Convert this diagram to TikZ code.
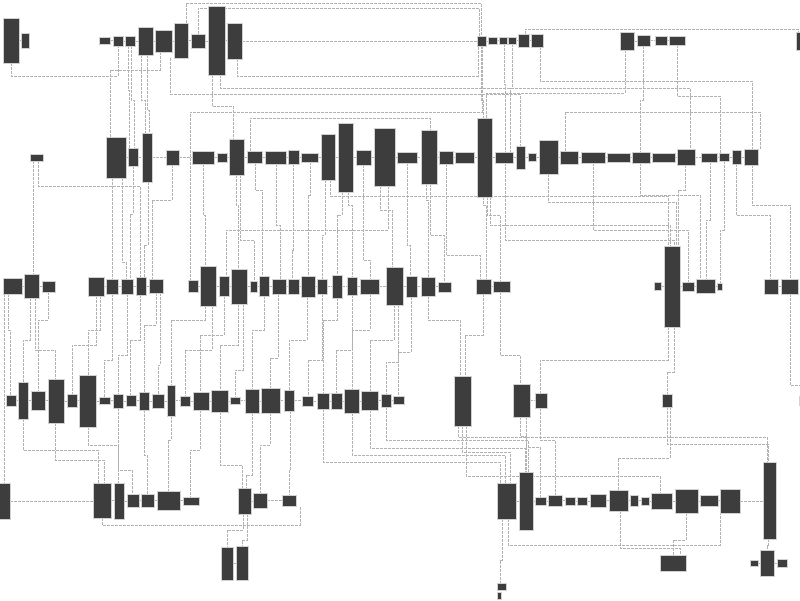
\documentclass[tikz,border=0pt]{standalone}
\usepackage{tikz}
\usetikzlibrary{fit, backgrounds}

\begin{document}
\begin{tikzpicture}[x=1pt, y=-1pt,
    tbl/.style={draw=black!18, fill=black!76, line width=0.8pt, inner sep=0pt},
    fk/.style={draw=black!30, dash pattern=on 2.5pt off 1.5pt, line width=0.45pt}
  ]
  \useasboundingbox (0,0) rectangle (800,600);

  % tables, row by row: name/x1/y1/x2/y2
  \foreach \n/\xa/\ya/\xb/\yb in {
      a1/3/18/19/63, a2/21/33/29/48, a3/99/37/110/44, a4/113/36/123/46,
      a5/125/36/135/46, a6/138/27/153/55, a7/155/30/172/52, a8/174/23/188/58,
      a9/191/34/205/48, a10/208/6/225/75, a11/227/23/242/59, a12/477/36/486/46,
      a13/488/37/497/44, a14/499/37/507/44, a15/508/37/516/44, a16/518/34/529/47,
      a17/531/34/543/47, a18/620/32/634/50, a19/637/35/650/46, a20/655/36/667/45,
      a21/669/36/685/45, a22/796/32/801/50}
    \node[tbl, fit={(\xa,\ya) (\xb,\yb)}] (\n) {};

  \foreach \n/\xa/\ya/\xb/\yb in {
      b1/30/154/43/161, b2/106/137/126/178, b3/128/148/138/166, b4/142/133/152/182,
      b5/166/150/179/165, b6/192/151/214/164, b7/217/153/227/162, b8/229/139/244/175,
      b9/247/151/262/163, b10/265/151/286/164, b11/288/150/299/164, b12/301/153/318/162,
      b13/321/134/335/180, b14/338/123/353/192, b15/356/150/371/165, b16/374/128/395/186,
      b17/397/152/417/163, b18/421/130/437/184, b19/439/151/453/164, b20/455/152/474/163,
      b21/477/118/492/197, b22/495/152/513/163, b23/516/146/525/169, b24/528/153/536/161,
      b25/539/140/558/174, b26/560/151/578/164, b27/581/152/605/163, b28/607/153/630/162,
      b29/632/152/650/163, b30/652/153/675/162, b31/677/149/695/165, b32/701/153/717/162,
      b33/719/153/729/161, b34/732/150/741/164, b35/744/149/758/165}
    \node[tbl, fit={(\xa,\ya) (\xb,\yb)}] (\n) {};

  \foreach \n/\xa/\ya/\xb/\yb in {
      c1/3/278/22/294, c2/24/274/39/298, c3/42/281/55/292, c4/88/277/104/296,
      c5/106/279/118/294, c6/121/279/133/294, c7/136/277/146/295, c8/149/279/163/293,
      c9/188/280/198/292, c10/200/266/216/306, c11/219/276/229/296, c12/231/269/247/304,
      c13/250/281/257/292, c14/259/276/269/296, c15/272/279/286/294, c16/288/279/299/294,
      c17/301/276/315/297, c18/317/279/327/294, c19/332/275/342/298, c20/347/277/357/295,
      c21/360/279/379/294, c22/386/267/403/305, c23/406/276/417/297, c24/421/277/435/296,
      c25/438/282/451/292, c26/476/279/491/294, c27/493/281/510/292, c28/654/282/661/290,
      c29/664/246/680/327, c30/682/282/694/291, c31/696/279/715/293, c32/717/283/722/290,
      c33/764/279/778/294, c34/781/279/798/294}
    \node[tbl, fit={(\xa,\ya) (\xb,\yb)}] (\n) {};

  \foreach \n/\xa/\ya/\xb/\yb in {
      d1/6/395/16/406, d2/18/382/28/419, d3/31/391/45/410, d4/48/379/64/423,
      d5/67/394/77/407, d6/79/375/96/427, d7/99/397/110/404, d8/113/394/123/408,
      d9/126/395/136/406, d10/139/392/149/410, d11/152/394/164/408, d12/167/385/175/416,
      d13/180/396/190/406, d14/193/392/209/410, d15/211/390/228/412, d16/230/397/240/404,
      d17/245/389/259/413, d18/261/388/280/413, d19/284/390/294/411, d20/302/396/313/406,
      d21/317/393/329/409, d22/331/393/342/409, d23/344/389/359/413, d24/361/391/378/410,
      d25/381/394/391/407, d26/393/396/404/404, d27/454/376/471/426, d28/513/384/530/417,
      d29/535/393/547/408, d30/662/394/672/407, d31/799/396/801/405}
    \node[tbl, fit={(\xa,\ya) (\xb,\yb)}] (\n) {};

  \foreach \n/\xa/\ya/\xb/\yb in {
      e1/-1/483/10/519, e2/93/483/111/518, e3/114/483/124/519, e4/127/494/139/507,
      e5/141/494/154/507, e6/157/491/180/510, e7/183/497/199/505, e8/238/488/251/514,
      e9/253/493/267/508, e10/282/495/296/506, e11/497/483/516/519, e12/519/472/533/530,
      e13/535/497/546/505, e14/548/495/562/506, e15/565/497/575/505, e16/577/497/587/505,
      e17/590/494/606/507, e18/609/490/628/511, e19/630/495/638/506, e20/641/497/649/505,
      e21/651/493/672/509, e22/675/489/698/513, e23/700/495/718/506, e24/720/489/740/513,
      e25/763/462/776/539,
      f1/221/547/233/580, f2/236/546/248/580, f3/660/555/686/571, f4/750/560/758/566,
      f5/760/550/774/576, f6/777/559/787/567, f7/497/583/506/590, f8/497/592/501/599}
    \node[tbl, fit={(\xa,\ya) (\xb,\yb)}] (\n) {};

  \begin{scope}[on background layer]
    % neighbours in a row
    \foreach \s/\t in {a1/a2, a3/a4, a4/a5, a5/a6, a6/a7, a7/a8, a8/a9, a9/a10, a10/a11,
        a12/a13, a13/a14, a14/a15, a15/a16, a16/a17, a18/a19, a19/a20, a20/a21,
        b2/b3, b3/b4, b4/b5, b5/b6, b6/b7, b7/b8, b8/b9, b9/b10, b10/b11, b11/b12,
        b12/b13, b13/b14, b14/b15, b15/b16, b16/b17, b17/b18, b18/b19, b19/b20,
        b20/b21, b21/b22, b22/b23, b23/b24, b24/b25, b25/b26, b26/b27, b27/b28,
        b28/b29, b29/b30, b30/b31, b31/b32, b32/b33, b33/b34, b34/b35,
        c1/c2, c2/c3, c4/c5, c5/c6, c6/c7, c7/c8, c9/c10, c10/c11, c11/c12, c12/c13,
        c13/c14, c14/c15, c15/c16, c16/c17, c17/c18, c18/c19, c19/c20, c20/c21,
        c21/c22, c22/c23, c23/c24, c24/c25, c26/c27, c28/c29, c29/c30, c30/c31,
        c31/c32, c33/c34,
        d1/d2, d2/d3, d3/d4, d4/d5, d5/d6, d6/d7, d7/d8, d8/d9, d9/d10, d10/d11,
        d11/d12, d12/d13, d13/d14, d14/d15, d15/d16, d16/d17, d17/d18, d18/d19,
        d19/d20, d20/d21, d21/d22, d22/d23, d23/d24, d24/d25, d25/d26, d28/d29,
        e1/e2, e2/e3, e3/e4, e4/e5, e5/e6, e6/e7, e8/e9, e9/e10, e11/e12, e12/e13,
        e13/e14, e14/e15, e15/e16, e16/e17, e17/e18, e18/e19, e19/e20, e20/e21,
        e21/e22, e22/e23, e23/e24, e24/e25, f1/f2, f4/f5, f5/f6}
      \draw[fk] (\s.east) -- (\s.east -| \t.west);

    % down the rows: source/x out/lane y/x in/target
    \foreach \s/\xa/\l/\xb/\t in {
        a5/128/90/129/b3, a5/131/100/134/b3, a6/141/100/145/b4, a6/147/110/149/b4,
        a8/170/94/520/b23, a10/212/106/233/b8, a10/220/88/690/b31, a12/482/112/190/c9,
        a12/481/100/483/b21, a14/504/84/505/b22, a15/512/88/510/b22, a17/540/81/752/b35,
        a18/625/93/486/b21, a19/643/100/640/b29, a21/677/96/720/b33, a7/160/70/110/b2,
        b1/33/182/33/c2, b1/38/186/140/c7, b2/112/230/112/c5, b2/122/262/126/c6,
        b3/133/214/130/c6, b4/148/245/144/c7, b5/172/200/152/c8, b6/203/215/205/c10,
        b8/236/205/238/c12, b8/240/240/254/c13, b9/255/190/262/c14, b10/276/225/280/c15,
        b11/293/250/292/c16, b12/310/195/308/c17, b13/325/235/322/c18, b13/330/196/668/c29,
        b14/342/215/337/c19, b14/348/205/352/c20, b15/363/260/370/c21, b16/380/210/392/c22,
        b16/388/230/226/c11, b17/407/245/410/c23, b18/426/200/428/c24, b18/430/235/444/c25,
        b19/446/255/480/c26, b21/483/205/486/c26, b21/487/215/500/c27, b21/490/225/670/c29,
        b22/505/240/674/c29, b25/548/202/676/c29, b27/593/230/688/c30, b29/640/195/700/c31,
        b31/685/190/678/c29, b32/710/220/706/c31, b33/724/230/720/c32, b34/736/215/770/c33,
        b35/752/205/790/c34,
        c1/4/440/4/e1, c1/8/330/10/d1, c2/30/340/23/d2, c2/35/350/55/d4, c3/48/320/38/d3,
        c4/96/345/72/d5, c4/100/330/88/d6, c5/112/360/104/d7, c6/127/355/118/d8,
        c7/140/340/130/d9, c8/156/325/144/d10, c8/160/365/158/d11, c10/205/320/171/d12,
        c10/212/350/185/d13, c11/224/335/200/d14, c12/238/345/220/d15, c12/243/370/235/d16,
        c14/264/330/252/d17, c15/278/358/270/d18, c17/307/340/289/d19, c18/322/360/308/d20,
        c19/337/320/323/d21, c20/352/350/336/d22, c21/370/330/352/d23, c22/394/340/370/d24,
        c22/398/362/386/d25, c23/411/352/398/d26, c24/428/320/460/d27, c26/483/335/465/d27,
        c27/500/355/520/d28, c29/668/360/540/d29, c29/674/372/667/d30, c34/790/385/800/d31,
        d2/23/450/98/e2, d4/55/460/104/e2, d6/88/445/118/e3, d8/118/470/132/e4,
        d10/144/455/147/e5, d12/171/440/168/e6, d14/200/450/190/e7, d15/220/465/242/e8,
        d17/252/475/246/e8, d18/270/445/260/e9, d19/290/470/289/e10, d21/323/462/500/e11,
        d23/352/455/505/e11, d24/370/448/525/e12, d25/386/440/528/e12, d27/462/452/510/e11,
        d28/520/436/526/e12, d28/526/447/540/e13, d29/540/440/555/e14, d30/667/444/768/e25,
        d30/670/458/618/e18, d27/466/476/660/e21,
        e8/243/530/227/f1, e8/247/540/242/f2, e11/502/560/500/f7, e22/686/540/673/f3,
        e25/768/545/767/f5, e18/620/548/680/f3}
      \draw[fk] (\s.south -| \xa,0) |- (\xb,\l) -- (\t.north -| \xb,0);

    % lanes above or below one row
    \foreach \s/\sa/\xa/\l/\xb/\t/\ta in {
        a8/north/186/3/481/a12/north, a9/north/198/8/479/a12/north,
        a16/north/525/29/798/a22/north, a1/south/11/76/118/a4/south,
        a11/south/237/76/478/a12/south, b9/north/250/118/430/b18/north,
        b26/north/565/112/760/b35/north, d27/south/458/437/767/e25/north,
        e2/south/102/525/300/e10/south, e11/south/508/545/720/e24/south}
      \draw[fk] (\s.\sa -| \xa,0) |- (\xb,\l) -- (\t.\ta -| \xb,0);

    \draw[fk] (a11.east) -- (a11.east -| 358,0) |- (a12.west);
  \end{scope}
\end{tikzpicture}
\end{document}
